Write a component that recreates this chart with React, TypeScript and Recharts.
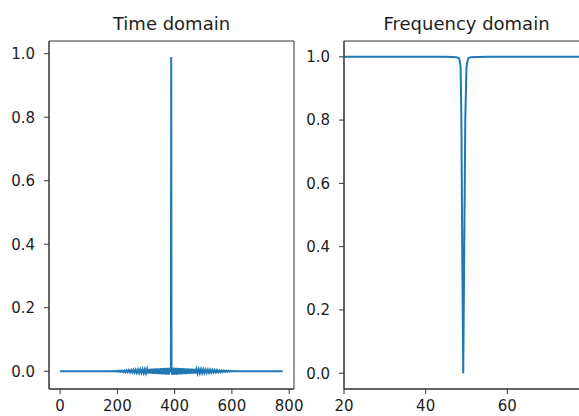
import React from "react";
import { LineChart, Line, XAxis, YAxis, ReferenceArea } from "recharts";

// time-domain impulse response: sample index -> amplitude (ringing around the centre spike)
const timeSamples = [
  0, 100, 150,
  176, 180, 184, 188, 192, 196, 200, 204, 208, 212, 216, 220, 224, 228, 232, 236, 240, 244, 248, 252,
  256, 260, 264, 268, 272, 276, 280, 284, 288, 292, 296, 300, 304, 308, 312, 316, 320, 324, 328, 332,
  336, 340, 344, 348, 352, 356, 360, 364, 368, 372, 376, 380, 384,
  387, 388, 389,
  392, 396, 400, 404, 408, 412, 416, 420, 424, 428, 432, 436, 440, 444, 448, 452, 456, 460, 464, 468,
  472, 476, 480, 484, 488, 492, 496, 500, 504, 508, 512, 516, 520, 524, 528, 532, 536, 540, 544, 548,
  552, 556, 560, 564, 568, 572, 576, 580, 584, 588, 592, 596, 600, 604, 608, 612,
  650, 700, 777,
];
const timeResponse = [
  0, 0, 0,
  0.0001, -0.0003, 0.0005, -0.0007, 0.0009, -0.0011, 0.0013, -0.0015, 0.0017, -0.0019, 0.0021, -0.0024,
  0.0026, -0.0028, 0.003, -0.0032, 0.0034, -0.0036, 0.0038, -0.004, 0.0042, -0.0045, 0.0047, -0.0049,
  0.0051, -0.0053, 0.0055, -0.0057, 0.0059, -0.0061, 0.0063, -0.0065, 0.0068, -0.007, 0.0072, -0.0074,
  0.0076, -0.0078, 0.008, -0.0082, 0.0084, -0.0086, 0.0089, -0.0091, 0.0093, -0.0095, 0.0097, -0.0099,
  0.0101, -0.0103, 0.0105, -0.0107, 0.0109,
  0, 0.99, 0,
  -0.011, 0.0108, -0.0106, 0.0104, -0.0102, 0.01, -0.0098, 0.0096, -0.0094, 0.0092, -0.009, 0.0088,
  -0.0086, 0.0084, -0.0082, 0.008, -0.0078, 0.0076, -0.0074, 0.0072, -0.0071, 0.0069, -0.0067, 0.0065,
  -0.0063, 0.0061, -0.0059, 0.0057, -0.0055, 0.0053, -0.0051, 0.0049, -0.0047, 0.0045, -0.0043, 0.0041,
  -0.0039, 0.0037, -0.0035, 0.0033, -0.0031, 0.0029, -0.0027, 0.0025, -0.0023, 0.0021, -0.0019, 0.0017,
  -0.0015, 0.0013, -0.0011, 0.0009, -0.0007, 0.0005, -0.0003, 0.0001,
  0, 0, 0,
];

// frequency response magnitude: Hz -> gain (notch near 50 Hz)
const freqHz = [20, 30, 40, 45, 47.5, 48.2, 48.55, 48.75, 48.95, 49.2, 49.45, 49.7, 50.0, 50.4, 51, 55, 60, 70, 80];
const freqGain = [1, 1, 1, 1, 0.999, 0.995, 0.97, 0.8, 0.4, 0, 0.4, 0.8, 0.97, 0.995, 0.999, 1, 1, 1, 1];

const timeTicks = [0, 200, 400, 600, 800];
const freqTicks = [20, 40, 60];
const gainTicks = [0, 0.2, 0.4, 0.6, 0.8, 1.0];

const timeDomain = [-38.9, 816.9];
const timeGainDomain = [-0.056, 1.04];
const freqDomain = [20, 80];
const freqGainDomain = [-0.05, 1.05];

const timeData = timeSamples.map((t, i) => ({ t, v: timeResponse[i] }));
const freqData = freqHz.map((f, i) => ({ f, v: freqGain[i] }));

const FONT = "DejaVu Sans";
const AXIS = "#333";
const TEXT = "#1e1e1e";
const LINE = "#1f77b4";
const tickStyle = { fill: TEXT, fontSize: 15, fontFamily: FONT };
const fmt1 = (v: number) => v.toFixed(1);

function Title({ left, text }: { left: number; text: string }) {
  return (
    <div
      style={{
        position: "absolute",
        left,
        top: 15,
        width: 245,
        textAlign: "center",
        fontFamily: FONT,
        fontSize: 18,
        lineHeight: "18px",
        color: TEXT,
        whiteSpace: "nowrap",
      }}
    >
      {text}
    </div>
  );
}

export default function App() {
  return (
    <div
      style={{
        position: "fixed",
        left: 0,
        top: 0,
        width: 579,
        height: 416,
        overflow: "hidden",
        background: "#fff",
      }}
    >
      <Title left={49} text="Time domain" />
      <Title left={344} text="Frequency domain" />

      <div style={{ position: "absolute", left: 0, top: 0 }}>
        <LineChart width={330} height={416} data={timeData} margin={{ top: 41, right: 36, bottom: 0, left: 0 }}>
          <XAxis
            dataKey="t"
            type="number"
            domain={timeDomain}
            ticks={timeTicks}
            height={27}
            stroke={AXIS}
            tickSize={5}
            tickMargin={6}
            tick={tickStyle}
            allowDataOverflow
          />
          <YAxis
            type="number"
            domain={timeGainDomain}
            ticks={gainTicks}
            width={49}
            stroke={AXIS}
            tickSize={5}
            tickMargin={9}
            tick={tickStyle}
            tickFormatter={fmt1}
            allowDataOverflow
          />
          <ReferenceArea
            x1={timeDomain[0]}
            x2={timeDomain[1]}
            y1={timeGainDomain[0]}
            y2={timeGainDomain[1]}
            fill="none"
            stroke={AXIS}
            ifOverflow="visible"
          />
          <Line dataKey="v" type="linear" stroke={LINE} strokeWidth={2} dot={false} isAnimationActive={false} />
        </LineChart>
      </div>

      <div style={{ position: "absolute", left: 300, top: 0 }}>
        <LineChart width={300} height={416} data={freqData} margin={{ top: 41, right: 11, bottom: 0, left: 0 }}>
          <XAxis
            dataKey="f"
            type="number"
            domain={freqDomain}
            ticks={freqTicks}
            height={27}
            stroke={AXIS}
            tickSize={5}
            tickMargin={6}
            tick={tickStyle}
            allowDataOverflow
          />
          <YAxis
            type="number"
            domain={freqGainDomain}
            ticks={gainTicks}
            width={44}
            stroke={AXIS}
            tickSize={5}
            tickMargin={9}
            tick={tickStyle}
            tickFormatter={fmt1}
            allowDataOverflow
          />
          <ReferenceArea
            x1={freqDomain[0]}
            x2={freqDomain[1]}
            y1={freqGainDomain[0]}
            y2={freqGainDomain[1]}
            fill="none"
            stroke={AXIS}
            ifOverflow="visible"
          />
          <Line dataKey="v" type="linear" stroke={LINE} strokeWidth={2} dot={false} isAnimationActive={false} />
        </LineChart>
      </div>
    </div>
  );
}
